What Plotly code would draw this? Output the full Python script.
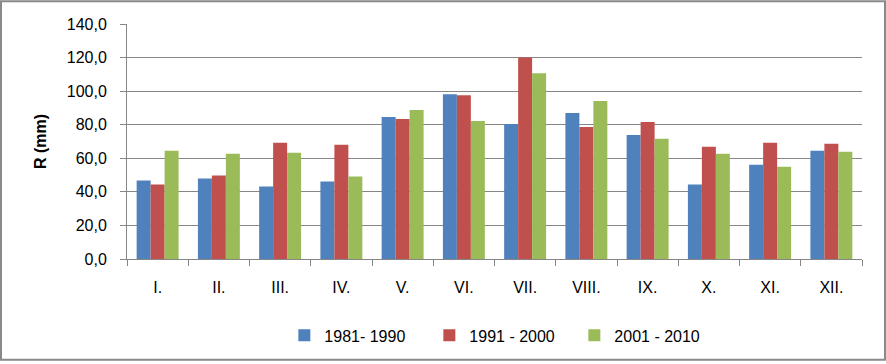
import plotly.graph_objects as go

months = ["I.", "II.", "III.", "IV.", "V.", "VI.", "VII.", "VIII.", "IX.", "X.", "XI.", "XII."]
s1981_1990 = [46.7, 47.9, 43.2, 46.1, 84.6, 98.2, 80.4, 87.0, 73.9, 44.4, 56.2, 64.5]
s1991_2000 = [44.4, 49.7, 69.2, 68.0, 83.4, 97.6, 120.1, 78.7, 81.6, 66.8, 69.2, 68.6]
s2001_2010 = [64.5, 62.7, 63.3, 49.1, 88.7, 82.2, 110.6, 94.1, 71.6, 62.7, 55.0, 63.9]
series_names = ["1981- 1990", "1991 - 2000", "2001 - 2010"]
colors = ["#4F81BD", "#C0504D", "#9BBB59"]
y_ticks = [0, 20, 40, 60, 80, 100, 120, 140]

W, H = 886, 364
L, R, T, B = 127, 24, 24, 103
pw, ph = W - L - R, H - T - B

fig = go.Figure()
for name, vals, c in zip(series_names, [s1981_1990, s1991_2000, s2001_2010], colors):
    fig.add_trace(go.Bar(x=months, y=vals, name=name, marker=dict(color=c, line=dict(width=0))))

font = "Liberation Sans, Arial, sans-serif"
fig.update_layout(
    width=W, height=H,
    margin=dict(l=L, r=R, t=T, b=B, pad=0),
    paper_bgcolor="white", plot_bgcolor="white",
    separators=",.",
    barmode="group", bargap=0.315, bargroupgap=0,
    font=dict(family=font, size=15, color="#000000"),
    showlegend=True,
    legend=dict(orientation="h", x=0.51, xanchor="center", y=-0.325, yanchor="middle",
                font=dict(size=16), entrywidth=100, entrywidthmode="pixels",
                itemwidth=30, traceorder="normal"),
    xaxis=dict(showline=True, linecolor="#868686", linewidth=1, ticks="outside",
               tickson="boundaries", ticklen=6, tickcolor="#868686",
               ticklabelstandoff=14, showgrid=False, tickfont=dict(size=16)),
    yaxis=dict(range=[0, 140], tickvals=y_ticks, tickformat=".1f",
               showline=True, linecolor="#868686", linewidth=1,
               ticks="outside", ticklen=6, tickcolor="#868686",
               showgrid=True, gridcolor="#868686", gridwidth=1,
               zeroline=False, ticklabelstandoff=10, tickfont=dict(size=16),
               title=dict(text="<b>R (mm)</b>", font=dict(size=16), standoff=16)),
    shapes=[dict(type="rect", xref="paper", yref="paper",
                 x0=-(L - 1) / pw, x1=1 + (R - 1) / pw,
                 y0=-(B - 1.5) / ph, y1=1 + (T - 1) / ph,
                 line=dict(color="#898989", width=2), layer="above")],
)

fig.write_html("out.html", config={"displayModeBar": False},
               post_script="document.body.style.margin='0';document.body.style.overflow='hidden';")
